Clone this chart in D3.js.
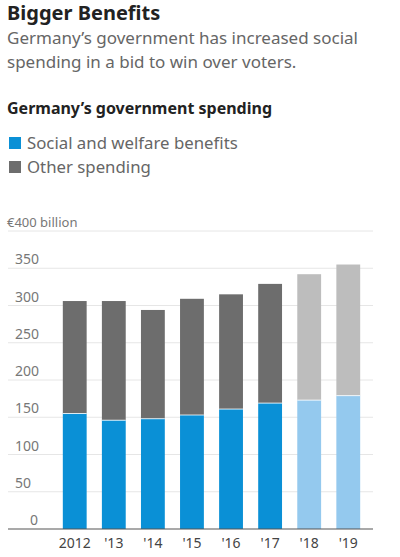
<!DOCTYPE html>
<html lang="en">
<head>
<meta charset="utf-8">
<title>Bigger Benefits</title>
<script src="https://d3js.org/d3.v7.min.js"></script>
<style>
  body { margin: 0; background: #fff; }
  svg { font-family: 'Noto Sans', sans-serif; }
  .title { font-size: 20px; font-weight: 700; fill: #222; }
  .sub { font-size: 17px; fill: #666; }
  .head { font-size: 16px; font-weight: 700; fill: #222; }
  .legend text { font-size: 16.8px; fill: #666; }
  .ylab { font-size: 14px; fill: #777; }
  .xlab { font-size: 14px; fill: #444; }
</style>
</head>
<body>
<div id="chart"></div>
<script>
// data
var years = ["2012", "'13", "'14", "'15", "'16", "'17", "'18", "'19"];
var social = [155, 146, 148, 153, 161, 169, 173, 179];
var total = [306, 306, 294, 309, 315, 329, 342, 355];
var forecast = [false, false, false, false, false, false, true, true];
var yTicks = [0, 50, 100, 150, 200, 250, 300, 350, 400];

var W = 400, H = 557;
var svg = d3.select("#chart").append("svg")
    .attr("width", W).attr("height", H);

// header texts
svg.append("text").attr("class", "title").attr("x", 7).attr("y", 20).text("Bigger Benefits");
svg.append("text").attr("class", "sub").attr("x", 7).attr("y", 44).text("Germany\u2019s government has increased social");
svg.append("text").attr("class", "sub").attr("x", 7).attr("y", 68).text("spending in a bid to win over voters.");
svg.append("text").attr("class", "head").attr("x", 7).attr("y", 114).text("Germany\u2019s government spending");

var legend = svg.append("g").attr("class", "legend");
[["Social and welfare benefits", "#0a90d6"], ["Other spending", "#6d6d6d"]].forEach(function(d, i) {
  legend.append("rect").attr("x", 9).attr("y", 137 + i * 24).attr("width", 12).attr("height", 12).attr("fill", d[1]);
  legend.append("text").attr("x", 27).attr("y", 149 + i * 24).text(d[0]);
});

var plotLeft = 8, plotRight = 373, plotTop = 231, plotBottom = 529;

var x = d3.scaleBand().domain(years).range([55, 368]).paddingInner(0.39).paddingOuter(0.2);
var y = d3.scaleLinear().domain([0, 400]).range([plotBottom, plotTop]);

// gridlines
svg.append("g").selectAll("line").data(yTicks.filter(function(d) { return d > 0; }))
  .enter().append("line")
    .attr("x1", plotLeft).attr("x2", plotRight)
    .attr("y1", function(d) { return y(d); }).attr("y2", function(d) { return y(d); })
    .attr("stroke", "#e6e6e6").attr("stroke-width", 1);

// y labels sit just above the gridlines
svg.append("g").selectAll("text").data(yTicks)
  .enter().append("text")
    .attr("class", "ylab")
    .attr("x", function(d) { return d === 400 ? 7 : (d === 0 ? 30 : 15); })
    .attr("y", function(d) { return y(d) - 4; })
    .attr("font-size", function(d) { return d === 400 ? "13px" : null; })
    .style("font-size", function(d) { return d === 400 ? "13px" : null; })
    .text(function(d) { return d === 400 ? "\u20ac400 billion" : d; });

// bars
var bars = svg.append("g");
years.forEach(function(yr, i) {
  bars.append("rect")
    .attr("x", x(yr)).attr("width", x.bandwidth())
    .attr("y", y(total[i])).attr("height", y(social[i]) - y(total[i]))
    .attr("fill", forecast[i] ? "#bdbdbd" : "#6d6d6d");
  bars.append("rect")
    .attr("x", x(yr)).attr("width", x.bandwidth())
    .attr("y", y(social[i])).attr("height", y(0) - y(social[i]))
    .attr("fill", forecast[i] ? "#94c9ee" : "#0a90d6");
  bars.append("line")
    .attr("x1", x(yr)).attr("x2", x(yr) + x.bandwidth())
    .attr("y1", y(social[i])).attr("y2", y(social[i]))
    .attr("stroke", "#fff").attr("stroke-width", 1).attr("opacity", 0.8);
});

// baseline
svg.append("line").attr("x1", plotLeft).attr("x2", plotRight)
  .attr("y1", y(0)).attr("y2", y(0)).attr("stroke", "#555").attr("stroke-width", 1.2);

// x axis labels
svg.append("g").selectAll("text").data(years)
  .enter().append("text")
    .attr("class", "xlab")
    .attr("x", function(d) { return x(d) + x.bandwidth() / 2; })
    .attr("y", 548)
    .attr("text-anchor", "middle")
    .text(function(d) { return d; });
</script>
</body>
</html>
